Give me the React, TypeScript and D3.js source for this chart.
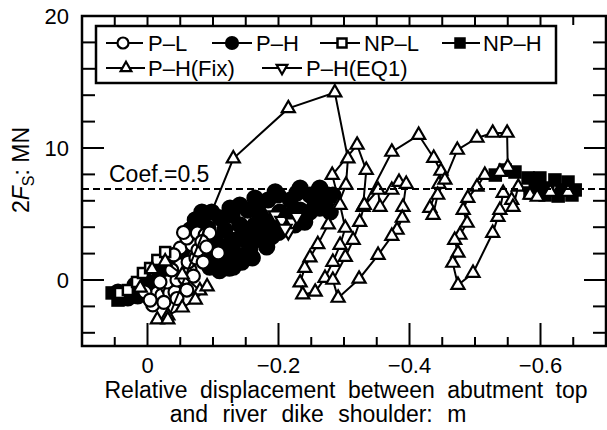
import React from "react";
import * as d3 from "d3";

type Pt = [number, number];

// Axis settings
const xDomain: Pt = [0.1, -0.7];
const yDomain: Pt = [-5, 20];
const xMajorTicks = [0, -0.2, -0.4, -0.6];
const xTickLabels = ["0", "\u22120.2", "\u22120.4", "\u22120.6"];
const xMinorTicks = [0.1, 0.05, -0.05, -0.1, -0.15, -0.25, -0.3, -0.35, -0.45, -0.5, -0.55, -0.65, -0.7];
const yMajorTicks = [0, 10, 20];
const yTickLabels = ["0", "10", "20"];
const yMinorTicks = [-4, -2, 2, 4, 6, 8, 12, 14, 16, 18];
const coefValue = 6.9;
const coefLabel = "Coef.=0.5";
const seriesNames = ["P\u2013L", "P\u2013H", "NP\u2013L", "NP\u2013H", "P\u2013H(Fix)", "P\u2013H(EQ1)"];

// P-L (open circles)
const pL: Pt[] = [
  [-0.008, -1.89], [-0.015, -0.98], [-0.022, -1.14], [-0.031, -0.61], [-0.034, -0.98], [-0.042, -0.91],
  [-0.03, -0.15], [-0.045, 0.0], [-0.057, 0.15], [-0.06, -0.76], [-0.05, 1.14], [-0.065, 0.76],
  [-0.062, 1.36], [-0.074, 1.67], [-0.05, 2.42], [-0.068, 2.65], [-0.06, 3.18], [-0.076, 3.56],
  [-0.088, 3.41], [-0.095, 3.56], [-0.077, 2.27], [-0.108, 2.05], [-0.085, 1.36], [-0.037, 0.76],
  [-0.019, -0.15], [0.004, -0.91], [-0.004, -1.52], [-0.025, -1.7], [-0.045, -1.4], [-0.04, 1.9],
  [-0.055, 3.6], [-0.083, 2.9], [-0.07, 0.3], [-0.09, 2.5],
];

// P-H (filled circles)
const pH: Pt[] = [
  [0.045, -0.91], [0.03, -1.36], [0.015, -1.21], [0.019, -0.38], [-0.001, -0.15], [-0.011, -0.76],
  [-0.019, 0.61], [-0.031, 1.36], [-0.042, 1.89], [-0.053, 2.27], [-0.065, 2.8], [-0.08, 3.41],
  [-0.083, 5.15], [-0.08, 4.39], [-0.092, 3.94], [-0.103, 3.03], [-0.098, 1.67], [-0.095, 0.98],
  [-0.114, 1.82], [-0.131, 0.98], [-0.123, 2.65], [-0.118, 3.79], [-0.111, 4.7], [-0.129, 4.92],
  [-0.141, 4.17], [-0.149, 3.03], [-0.156, 2.27], [-0.138, 1.89], [-0.153, 5.3], [-0.169, 5.68],
  [-0.164, 4.17], [-0.175, 3.18], [-0.182, 2.5], [-0.187, 4.17], [-0.184, 6.06], [-0.199, 6.44],
  [-0.202, 5.15], [-0.21, 3.94], [-0.218, 6.06], [-0.228, 6.59], [-0.233, 5.3], [-0.24, 4.39],
  [-0.248, 6.44], [-0.26, 6.67], [-0.263, 5.45], [-0.276, 6.44], [-0.279, 5.15],
  [-0.103, 2.27], [-0.118, 1.36], [-0.149, 3.79], [-0.134, 3.03], [-0.164, 3.03], [-0.172, 4.92],
  [-0.195, 4.7], [-0.218, 4.92], [-0.225, 4.17], [-0.256, 5.68], [-0.271, 5.68], [-0.248, 5.15],
  [-0.179, 3.79], [-0.144, 1.36], [-0.16, 1.67], [-0.233, 6.97], [-0.263, 6.97], [-0.283, 6.44],
  [-0.195, 6.67], [-0.065, 3.79], [-0.073, 4.55], [-0.098, 5.15], [-0.126, 5.45], [-0.141, 5.68],
  [-0.164, 6.21], [-0.11, 0.7], [-0.125, 0.9], [-0.19, 3.3], [-0.2, 3.6],
];

// NP-L (open squares)
const npL: Pt[] = [
  [0.042, -0.98], [0.03, -0.76], [0.016, -0.15], [0.007, 0.53], [-0.004, 0.91], [-0.015, 1.52], [-0.027, 2.12],
];

// NP-H (filled squares)
const npH: Pt[] = [
  [0.054, -0.98], [0.045, -1.52], [0.034, -1.29],
  [-0.531, 7.95], [-0.546, 8.33], [-0.561, 8.18], [-0.581, 7.73], [-0.592, 7.12], [-0.599, 7.73],
  [-0.611, 6.97], [-0.622, 7.58], [-0.633, 6.82], [-0.642, 7.42], [-0.653, 6.82], [-0.648, 6.44],
  [-0.607, 6.44], [-0.584, 6.59], [-0.627, 6.36],
];

// P-H(Fix) (open triangles, connected)
const pHFix: Pt[] = [
  [0.011, -0.6], [-0.007, 0.8], [-0.027, 1.4], [-0.053, 0.4], [-0.08, -0.8], [-0.091, -0.5], [-0.073, -1.5],
  [-0.053, -2.1], [-0.031, -2.7], [-0.015, -3.0], [-0.031, -3.0],
  [-0.131, 9.2], [-0.215, 13.0], [-0.286, 14.2], [-0.306, 9.2], [-0.303, 7.2], [-0.291, 5.7], [-0.276, 4.2],
  [-0.26, 2.7], [-0.248, 1.7], [-0.24, 0.9], [-0.233, -0.2], [-0.237, -1.1], [-0.256, -0.9],
  [-0.271, 0.15], [-0.283, 1.36], [-0.294, 2.65], [-0.302, 3.94], [-0.294, 5.68], [-0.282, 7.95],
  [-0.32, 10.23], [-0.334, 8.33], [-0.329, 5.53],
  [-0.352, 6.82], [-0.355, 5.53], [-0.373, 6.82], [-0.384, 7.42], [-0.395, 7.27], [-0.39, 5.53], [-0.389, 4.7],
  [-0.381, 3.79], [-0.373, 3.33], [-0.352, 1.89], [-0.323, 0.08], [-0.291, -1.36],
  [-0.283, 0.0], [-0.302, 1.74], [-0.314, 3.03], [-0.324, 4.39], [-0.331, 5.68], [-0.373, 9.7], [-0.414, 10.98],
  [-0.437, 9.24], [-0.448, 8.26], [-0.445, 7.27], [-0.431, 5.45], [-0.436, 4.92], [-0.443, 6.44], [-0.454, 7.58],
  [-0.473, 9.85], [-0.503, 10.76], [-0.527, 11.14], [-0.549, 11.14], [-0.55, 8.56],
  [-0.538, 8.18], [-0.515, 7.95], [-0.503, 7.05], [-0.489, 6.21], [-0.482, 5.3], [-0.488, 4.32], [-0.477, 3.41],
  [-0.469, 3.03], [-0.474, 2.05], [-0.466, 1.29], [-0.474, -0.38], [-0.497, 0.53], [-0.527, 3.56], [-0.535, 4.77],
  [-0.538, 5.3], [-0.543, 6.59], [-0.556, 6.06], [-0.558, 5.53], [-0.566, 7.05], [-0.584, 6.44], [-0.595, 6.29],
  [-0.615, 6.67], [-0.642, 6.67],
];

// P-H(EQ1) (open inverted triangles)
const pHEQ1: Pt[] = [
  [-0.195, 4.92], [-0.205, 4.5], [-0.221, 4.39], [-0.215, 3.64], [-0.21, 3.9], [-0.228, 4.8],
];

const FONT = "'Liberation Sans', Arial, Helvetica, sans-serif";

export default function App() {
  const L = 82, R = 606, T = 16, B = 346;
  const x = d3.scaleLinear().domain(xDomain).range([L, R]);
  const y = d3.scaleLinear().domain(yDomain).range([B, T]);
  const line = d3.line<Pt>().x((d) => x(d[0])).y((d) => y(d[1]));
  const tri = d3.symbol().type(d3.symbolTriangle).size(74)() as string;
  const triS = d3.symbol().type(d3.symbolTriangle).size(50)() as string;

  const circ = (cx: number, cy: number, filled: boolean, r = 6, key?: any) => (
    <circle key={key} cx={cx} cy={cy} r={r} fill={filled ? "#000" : "#fff"} stroke="#000" strokeWidth={2.2} />
  );
  const sq = (cx: number, cy: number, filled: boolean, s = 10, key?: any) => (
    <rect key={key} x={cx - s / 2} y={cy - s / 2} width={s} height={s} fill={filled ? "#000" : "#fff"} stroke="#000" strokeWidth={2.5} />
  );
  const triUp = (cx: number, cy: number, key?: any, path = tri) => (
    <path key={key} d={path} transform={`translate(${cx},${cy})`} fill="#fff" stroke="#000" strokeWidth={2.2} />
  );
  const triDown = (cx: number, cy: number, key?: any, path = tri) => (
    <path key={key} d={path} transform={`translate(${cx},${cy}) rotate(180)`} fill="#fff" stroke="#000" strokeWidth={2.2} />
  );

  const legendRows = [
    { y: 43, base: 50.5, items: [
      { x0: 106, x1: 143, mx: 123, tx: 148, m: (cx: number, cy: number) => circ(cx, cy, false, 5.5) },
      { x0: 212, x1: 252, mx: 232, tx: 256, m: (cx: number, cy: number) => circ(cx, cy, true, 6) },
      { x0: 320, x1: 360, mx: 342, tx: 364, m: (cx: number, cy: number) => sq(cx, cy, false, 9) },
      { x0: 442, x1: 480, mx: 460, tx: 483, m: (cx: number, cy: number) => sq(cx, cy, true, 9) },
    ] },
    { y: 68, base: 76, items: [
      { x0: 106, x1: 145, mx: 126, tx: 148, m: (cx: number, cy: number) => triUp(cx, cy, undefined, triS) },
      { x0: 262, x1: 302, mx: 282, tx: 306, m: (cx: number, cy: number) => triDown(cx, cy, undefined, triS) },
    ] },
  ];

  let nameIdx = 0;

  return (
    <svg width={607} height={430} style={{ position: "absolute", left: 0, top: 0, background: "#fff" }} fontFamily={FONT}>
      <rect x={0} y={0} width={607} height={430} fill="#fff" />
      {/* data */}
      <g>
        {pH.map((d, i) => circ(x(d[0]), y(d[1]), true, 7.5, "ph" + i))}
        {npH.map((d, i) => sq(x(d[0]), y(d[1]), true, 11, "nph" + i))}
        {pL.map((d, i) => circ(x(d[0]), y(d[1]), false, 6.5, "pl" + i))}
        {npL.map((d, i) => sq(x(d[0]), y(d[1]), false, 10, "npl" + i))}
        {pHEQ1.map((d, i) => triDown(x(d[0]), y(d[1]), "eq" + i))}
        <path d={line(pHFix) as string} fill="none" stroke="#000" strokeWidth={2} />
        {pHFix.map((d, i) => triUp(x(d[0]), y(d[1]), "fx" + i))}
      </g>
      {/* coef line */}
      <line x1={L} x2={R} y1={y(coefValue)} y2={y(coefValue)} stroke="#000" strokeWidth={2} strokeDasharray="7 4" />
      <text x={109} y={182} fontSize={23}>{coefLabel}</text>
      {/* frame */}
      <rect x={L} y={T} width={R - L} height={B - T} fill="none" stroke="#000" strokeWidth={2.5} />
      {/* ticks */}
      <g stroke="#000" strokeWidth={2}>
        {xMajorTicks.map((t, i) => (
          <g key={"xm" + i}>
            <line x1={x(t)} x2={x(t)} y1={B} y2={B - 23} />
            <line x1={x(t)} x2={x(t)} y1={T} y2={T + 23} />
          </g>
        ))}
        {xMinorTicks.map((t, i) => (
          <g key={"xn" + i}>
            <line x1={x(t)} x2={x(t)} y1={B} y2={B - 9} />
            <line x1={x(t)} x2={x(t)} y1={T} y2={T + 9} />
          </g>
        ))}
        {yMajorTicks.map((t, i) => (
          <g key={"ym" + i}>
            <line x1={L} x2={L + 22} y1={y(t)} y2={y(t)} />
            <line x1={R} x2={R - 22} y1={y(t)} y2={y(t)} />
          </g>
        ))}
        {yMinorTicks.map((t, i) => (
          <g key={"yn" + i}>
            <line x1={L} x2={L + 13} y1={y(t)} y2={y(t)} />
            <line x1={R} x2={R - 13} y1={y(t)} y2={y(t)} />
          </g>
        ))}
      </g>
      {/* tick labels */}
      {xMajorTicks.map((t, i) => (
        <text key={"xl" + i} x={x(t)} y={373} fontSize={22} textAnchor="middle">{xTickLabels[i]}</text>
      ))}
      {yMajorTicks.map((t, i) => (
        <text key={"yl" + i} x={69} y={y(t) + 8} fontSize={22} textAnchor="end">{yTickLabels[i]}</text>
      ))}
      {/* axis titles */}
      <text x={346} y={398} fontSize={23} textAnchor="middle" wordSpacing={6}>Relative displacement between abutment top</text>
      <text x={318} y={422} fontSize={23} textAnchor="middle" wordSpacing={8}>and river dike shoulder: m</text>
      <text transform="translate(29,170) rotate(-90)" fontSize={23} textAnchor="middle">
        2<tspan fontStyle="italic">F</tspan><tspan fontSize={16} dy={5}>S</tspan><tspan dy={-5}>: MN</tspan>
      </text>
      {/* legend */}
      <rect x={96} y={26} width={460} height={57} fill="#fff" stroke="#000" strokeWidth={2.5} />
      {legendRows.map((row, ri) => (
        <g key={"lr" + ri}>
          {row.items.map((it, ii) => {
            const name = seriesNames[nameIdx++];
            return (
              <g key={"li" + ii}>
                <line x1={it.x0} x2={it.x1} y1={row.y} y2={row.y} stroke="#000" strokeWidth={2} />
                {it.m(it.mx, row.y)}
                <text x={it.tx} y={row.base} fontSize={22}>{name}</text>
              </g>
            );
          })}
        </g>
      ))}
    </svg>
  );
}
